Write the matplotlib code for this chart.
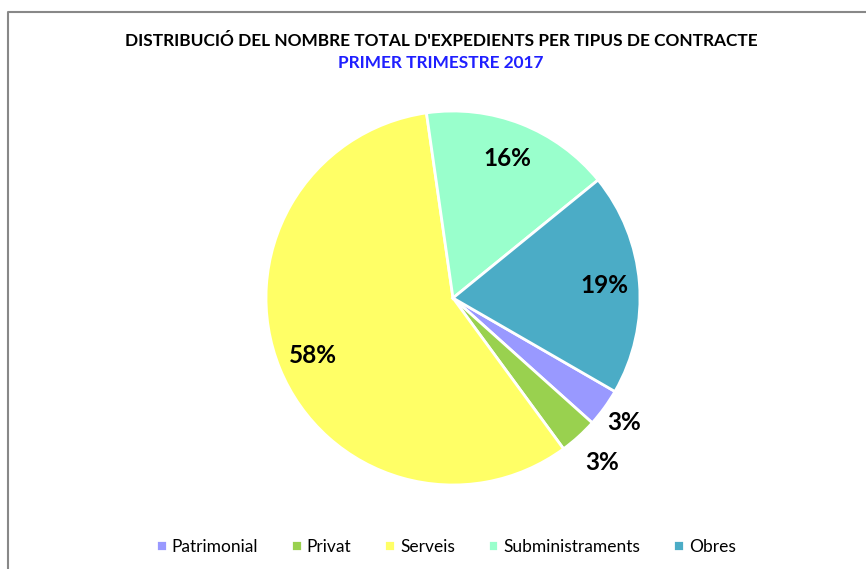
import numpy as np
import matplotlib
matplotlib.use('Agg')
import matplotlib.pyplot as plt
from matplotlib.lines import Line2D

plt.rcParams['font.family'] = ['Lato', 'DejaVu Sans']

# dades
categories = ['Patrimonial', 'Privat', 'Serveis', 'Subministraments', 'Obres']
values = [3.3, 3.3, 57.8, 16.4, 19.2]
colors = ['#9999FF', '#99D14F', '#FFFF66', '#99FFCC', '#4BACC6']
label_dist = [1.13, 1.19, 0.81, 0.80, 0.81]

W, H = 866, 569
fig = plt.figure(figsize=(W / 100, H / 100), dpi=100)

cx, cy, r = 453, 298, 187
ax = fig.add_axes([(cx - r) / W, (H - cy - r) / H, 2 * r / W, 2 * r / H])
wedges, _ = ax.pie(values, colors=colors, startangle=-30, counterclock=False,
                   radius=1, wedgeprops=dict(edgecolor='white', linewidth=2))
ax.set_xlim(-1, 1); ax.set_ylim(-1, 1)
ax.set_aspect('equal')

tot = sum(values)
for w, v, d in zip(wedges, values, label_dist):
    a = np.deg2rad((w.theta1 + w.theta2) / 2)
    ax.text(d * np.cos(a), d * np.sin(a), f'{v / tot * 100:.0f}%',
            ha='center', va='center', fontsize=17.5, fontweight='bold',
            color='black', clip_on=False)

fig.text(441 / W, 1 - 41 / H, "DISTRIBUCIÓ DEL NOMBRE TOTAL D'EXPEDIENTS PER TIPUS DE CONTRACTE",
         ha='center', va='center', fontsize=12.4, fontweight='bold', color='black')
fig.text(441 / W, 1 - 63 / H, 'PRIMER TRIMESTRE 2017',
         ha='center', va='center', fontsize=12.4, fontweight='bold', color='#1F1FFF')

fig.legend(wedges, categories, loc='center', bbox_to_anchor=(446 / W, 1 - 547 / H),
           ncol=5, frameon=False, fontsize=12.5, handlelength=0.6, handleheight=0.6,
           handletextpad=0.3, columnspacing=1.9)

# marc (només a dalt i a l'esquerra, com a la captura)
fig.lines.append(Line2D([8 / W, 8 / W, 1], [0, 1 - 12 / H, 1 - 12 / H],
                        transform=fig.transFigure, color='#888888', linewidth=1.5))

fig.savefig('out.png', dpi=100)
